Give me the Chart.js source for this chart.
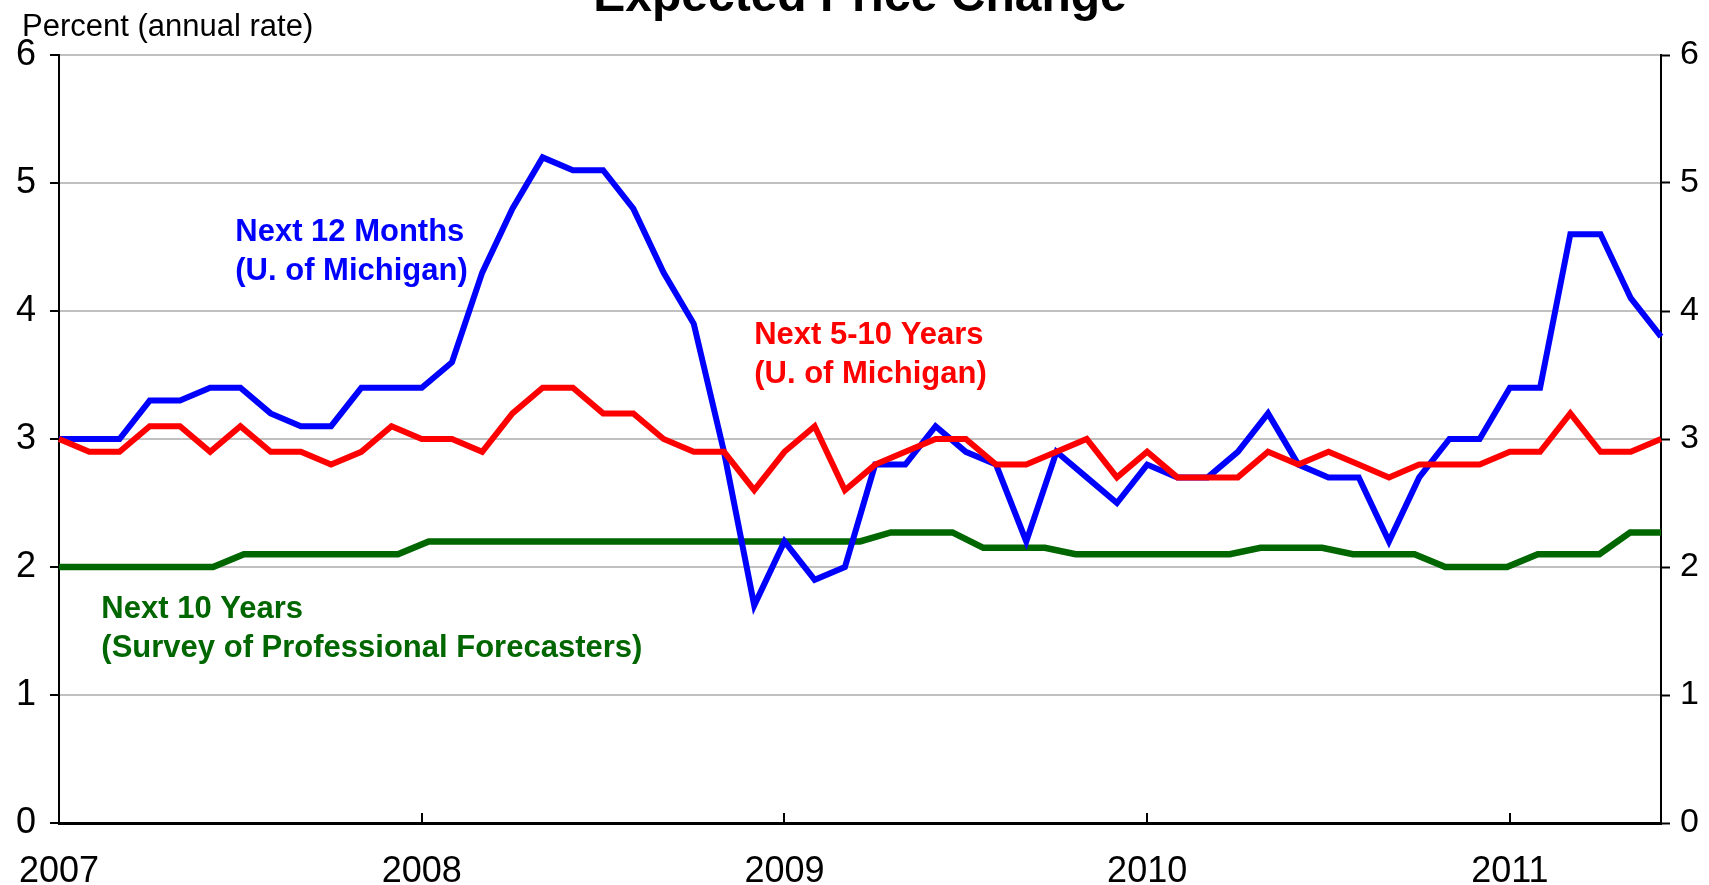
<!DOCTYPE html>
<html lang="en">
<head>
<meta charset="UTF-8">
<title>Expected Price Change</title>
<script src="https://cdn.jsdelivr.net/npm/chart.js@4.4.1/dist/chart.umd.min.js"></script>
<style>
  html, body { margin: 0; padding: 0; background: #fff; }
  canvas { display: block; }
</style>
</head>
<body>
<canvas id="chart" width="1709" height="885"></canvas>
<script>
const months = [
  '2007-01','2007-02','2007-03','2007-04','2007-05','2007-06','2007-07','2007-08','2007-09','2007-10','2007-11','2007-12',
  '2008-01','2008-02','2008-03','2008-04','2008-05','2008-06','2008-07','2008-08','2008-09','2008-10','2008-11','2008-12',
  '2009-01','2009-02','2009-03','2009-04','2009-05','2009-06','2009-07','2009-08','2009-09','2009-10','2009-11','2009-12',
  '2010-01','2010-02','2010-03','2010-04','2010-05','2010-06','2010-07','2010-08','2010-09','2010-10','2010-11','2010-12',
  '2011-01','2011-02','2011-03','2011-04','2011-05','2011-06'
]

// the SPF line has one point fewer and is stretched over the same width
const spfMonths = months.slice(0, 53)

const next12Months = [
  3.0, 3.0, 3.0, 3.3, 3.3, 3.4, 3.4, 3.2, 3.1, 3.1, 3.4, 3.4,
  3.4, 3.6, 4.3, 4.8, 5.2, 5.1, 5.1, 4.8, 4.3, 3.9, 2.9, 1.7,
  2.2, 1.9, 2.0, 2.8, 2.8, 3.1, 2.9, 2.8, 2.2, 2.9, 2.7, 2.5,
  2.8, 2.7, 2.7, 2.9, 3.2, 2.8, 2.7, 2.7, 2.2, 2.7, 3.0, 3.0,
  3.4, 3.4, 4.6, 4.6, 4.1, 3.8
]

const next5to10Years = [
  3.0, 2.9, 2.9, 3.1, 3.1, 2.9, 3.1, 2.9, 2.9, 2.8, 2.9, 3.1,
  3.0, 3.0, 2.9, 3.2, 3.4, 3.4, 3.2, 3.2, 3.0, 2.9, 2.9, 2.6,
  2.9, 3.1, 2.6, 2.8, 2.9, 3.0, 3.0, 2.8, 2.8, 2.9, 3.0, 2.7,
  2.9, 2.7, 2.7, 2.7, 2.9, 2.8, 2.9, 2.8, 2.7, 2.8, 2.8, 2.8,
  2.9, 2.9, 3.2, 2.9, 2.9, 3.0
]

const next10YearsSPF = [
  2.0, 2.0, 2.0, 2.0, 2.0, 2.0, 2.1, 2.1, 2.1, 2.1, 2.1, 2.1,
  2.2, 2.2, 2.2, 2.2, 2.2, 2.2, 2.2, 2.2, 2.2, 2.2, 2.2, 2.2,
  2.2, 2.2, 2.2, 2.27, 2.27, 2.27, 2.15, 2.15, 2.15, 2.1, 2.1, 2.1,
  2.1, 2.1, 2.1, 2.15, 2.15, 2.15, 2.1, 2.1, 2.1, 2.0, 2.0, 2.0,
  2.1, 2.1, 2.1, 2.27, 2.27
]

const yTicks = [0, 1, 2, 3, 4, 5, 6]

const titleText = 'Expected Price Change'
const unitText = 'Percent (annual rate)'

const BLUE = '#0000ff'
const RED = '#ff0000'
const GREEN = '#006600'
const FONT = '"Liberation Sans", Arial, Helvetica, sans-serif'

// series labels, anchored in data space (month index, value)
const notes = [
  { lines: ['Next 12 Months', '(U. of Michigan)'], color: BLUE, at: [5.83, 4.55] },
  { lines: ['Next 5-10 Years', '(U. of Michigan)'], color: RED, at: [23.0, 3.74] },
  { lines: ['Next 10 Years', '(Survey of Professional Forecasters)'], color: GREEN, at: [1.4, 1.6] }
]

const textPlugin = {
  id: 'texts',
  afterDraw(chart) {
    const { ctx, chartArea, scales } = chart
    ctx.save()

    // year tick marks point up into the plot
    ctx.strokeStyle = '#000'
    ctx.lineWidth = 2
    months.forEach((m, i) => {
      if (!m.endsWith('-01')) return
      const x = Math.round(scales.x.getPixelForValue(i))
      ctx.beginPath()
      ctx.moveTo(x, chartArea.bottom)
      ctx.lineTo(x, chartArea.bottom - 10)
      ctx.stroke()
    })

    ctx.fillStyle = '#000'
    ctx.textBaseline = 'alphabetic'
    ctx.textAlign = 'center'
    ctx.font = 'bold 48px ' + FONT
    ctx.fillText(titleText, (chartArea.left + chartArea.right) / 2, chartArea.top - 44)

    ctx.textAlign = 'left'
    ctx.font = '31px ' + FONT
    ctx.fillText(unitText, 22, chartArea.top - 19)

    ctx.font = 'bold 31px ' + FONT
    notes.forEach(n => {
      const x = scales.x.getPixelForValue(n.at[0])
      const y = scales.y.getPixelForValue(n.at[1])
      ctx.fillStyle = n.color
      n.lines.forEach((line, i) => ctx.fillText(line, x, y + i * 39))
    })
    ctx.restore()
  }
}

window.onload = function() {
  const ctx = document.getElementById('chart').getContext('2d')

  new Chart(ctx, {
    type: 'line',
    data: {
      labels: months,
      datasets: [
        { label: 'Next 5-10 Years (U. of Michigan)', data: next5to10Years, borderColor: RED, xAxisID: 'x' },
        { label: 'Next 12 Months (U. of Michigan)', data: next12Months, borderColor: BLUE, xAxisID: 'x' },
        { label: 'Next 10 Years (SPF)', data: next10YearsSPF, borderColor: GREEN, xAxisID: 'x2', borderWidth: 6.5 }
      ]
    },
    options: {
      responsive: false,
      animation: false,
      events: [],
      layout: { autoPadding: false, padding: { top: 55, left: 0, right: 0, bottom: 0 } },
      elements: {
        line: { borderWidth: 6, tension: 0, fill: false, borderJoinStyle: 'miter' },
        point: { radius: 0 }
      },
      plugins: { legend: { display: false }, tooltip: { enabled: false }, title: { display: false } },
      scales: {
        x: {
          type: 'category',
          position: 'bottom',
          offset: false,
          grid: { display: false },
          border: { display: true, color: '#000', width: 3 },
          ticks: {
            autoSkip: false,
            maxRotation: 0,
            padding: 19,
            color: '#000',
            font: { family: FONT, size: 36 },
            callback: (v, i) => months[i].endsWith('-01') ? months[i].slice(0, 4) : ''
          },
          afterFit: s => { s.height = 62 }
        },
        x2: {
          type: 'category',
          labels: spfMonths,
          display: false,
          offset: false
        },
        y: {
          position: 'left',
          min: 0,
          max: 6,
          afterBuildTicks: s => { s.ticks = yTicks.map(v => ({ value: v })) },
          grid: { color: '#c0c0c0', lineWidth: 2, tickColor: '#000', tickWidth: 2, tickLength: 9 },
          border: { color: '#000', width: 2 },
          ticks: { padding: 14, color: '#000', font: { family: FONT, size: 36 } },
          afterFit: s => { s.width = 53 }
        },
        y2: {
          position: 'right',
          min: 0,
          max: 6,
          afterBuildTicks: s => { s.ticks = yTicks.map(v => ({ value: v })) },
          grid: { drawOnChartArea: false, tickColor: '#000', tickWidth: 2, tickLength: 9 },
          border: { color: '#000', width: 2 },
          ticks: { padding: 10, color: '#000', font: { family: FONT, size: 34 } },
          afterFit: s => { s.width = 48 }
        }
      }
    },
    plugins: [textPlugin]
  })
}
</script>
</body>
</html>
